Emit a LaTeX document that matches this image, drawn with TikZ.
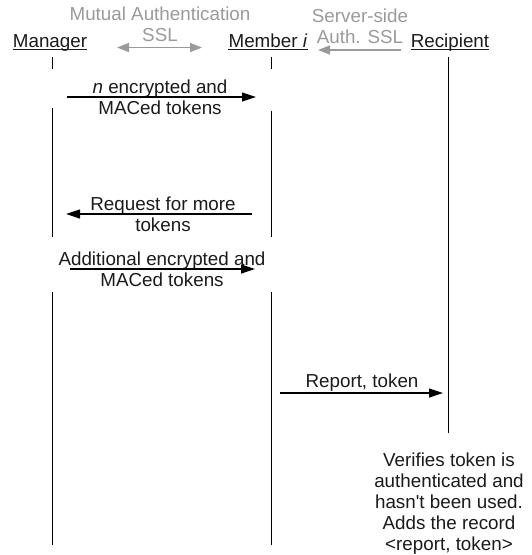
\documentclass[tikz,border=0pt]{standalone}
\usepackage{fontspec}
\setmainfont{Liberation Sans}
\usetikzlibrary{arrows.meta}
\definecolor{seqtext}{HTML}{1A1A1A}
\definecolor{seqgray}{HTML}{9A9A9A}

\begin{document}
\begin{tikzpicture}[x=1pt, y=-1pt,
    actor/.style={inner sep=0pt, anchor=base, font=\fontsize{18.8}{21}\selectfont, text=seqtext},
    msgtext/.style={inner sep=0pt, align=center, font=\fontsize{18.8}{21}\selectfont, text=seqtext},
    sslnote/.style={inner sep=0pt, align=center, font=\fontsize{18.8}{21}\selectfont, text=seqgray},
    lifeline/.style={draw=black, line width=1pt},
    msg/.style={draw=black, line width=1.2pt, -{Triangle[length=14pt, width=9pt]}},
    sslone/.style={draw=seqgray, line width=1.6pt, -{Triangle[length=12pt, width=9pt]}},
    sslboth/.style={draw=seqgray, line width=1.6pt, {Triangle[length=12pt, width=9pt]}-{Triangle[length=12pt, width=9pt]}}
]
\useasboundingbox (0,0) rectangle (532,555);

\node[actor] (mgr) at (50,47) {Manager};
\node[actor] (mem) at (268,47) {Member \textit{i}};
\node[actor] (rcp) at (450,47) {Recipient};
\foreach \n in {mgr,mem,rcp}
  \draw[line width=1pt, seqtext] ([yshift=-2.5pt]\n.base west) -- ([yshift=-2.5pt]\n.base east);

\foreach \x/\ya/\yb in {52.5/57/69, 52.5/108/237, 52.5/292/545, 271/57/69, 271/111/237, 271/292/545, 448/57/433}
  \draw[lifeline] (\x,\ya) -- (\x,\yb);

\node[sslnote] (mutual) at (160,24.5) {Mutual Authentication\\SSL};
\coordinate (muta) at (117,47.5);
\coordinate (mutb) at (202,47.5);
\draw[sslboth] (muta) -- (mutb);

\node[sslnote] (server) at (360,26) {Server-side\\Auth. SSL};
\coordinate (srva) at (401,50);
\coordinate (srvb) at (318,50);
\draw[sslone] (srva) -- (srvb);

\node[msgtext] (tok) at (160,97.5) {\textit{n} encrypted and\\MACed tokens};
\coordinate (toks) at (67,97);
\coordinate (toke) at (256,97);
\draw[msg] (toks) -- (toke);

\node[msgtext] (req) at (163,214) {Request for more\\tokens};
\coordinate (reqs) at (252,214);
\coordinate (reqe) at (66,214);
\draw[msg] (reqs) -- (reqe);

\node[msgtext] (add) at (162,269.5) {Additional encrypted and\\MACed tokens};
\coordinate (adds) at (70,269);
\coordinate (adde) at (255,269);
\draw[msg] (adds) -- (adde);

\node[msgtext] (rep) at (362,383) {Report, token};
\coordinate (reps) at (280,393);
\coordinate (repe) at (443,393);
\draw[msg] (reps) -- (repe);

\node[msgtext] (ver) at (449,503.5) {Verifies token is\\authenticated and\\hasn\textquotesingle t been used.\\Adds the record\\<report, token>};

\end{tikzpicture}
\end{document}
